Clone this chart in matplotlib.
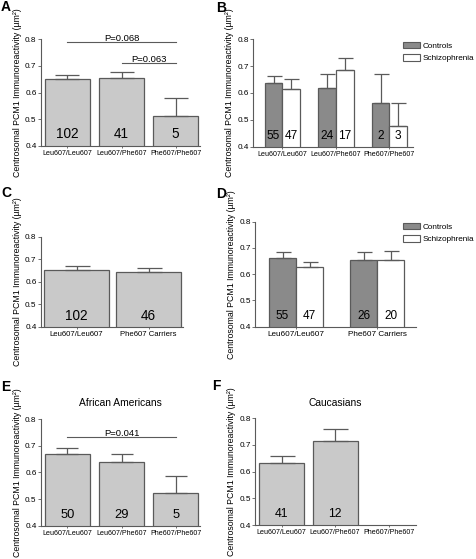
import numpy as np
import matplotlib
matplotlib.use('Agg')
import matplotlib.pyplot as plt
from matplotlib.patches import Patch

plt.rcParams['font.family'] = ['Liberation Sans', 'DejaVu Sans']

# ---------------------------------------------------------------- data
genotypes3 = ['Leu607/Leu607', 'Leu607/Phe607', 'Phe607/Phe607']
genotypes2 = ['Leu607/Leu607', 'Phe607 Carriers']
group_names = ['Controls', 'Schizophrenia']

a_mean = [0.651, 0.656, 0.511]
a_sem = [0.017, 0.023, 0.068]
a_n = [102, 41, 5]
a_pvals = ['P=0.068', 'P=0.063']

b_ctrl_mean = [0.637, 0.617, 0.562]
b_ctrl_sem = [0.027, 0.055, 0.108]
b_ctrl_n = [55, 24, 2]
b_scz_mean = [0.615, 0.685, 0.477]
b_scz_sem = [0.037, 0.045, 0.086]
b_scz_n = [47, 17, 3]

c_mean = [0.652, 0.641]
c_sem = [0.016, 0.021]
c_n = [102, 46]

d_ctrl_mean = [0.662, 0.653]
d_ctrl_sem = [0.022, 0.033]
d_ctrl_n = [55, 26]
d_scz_mean = [0.627, 0.653]
d_scz_sem = [0.021, 0.034]
d_scz_n = [47, 20]

e_mean = [0.670, 0.638, 0.521]
e_sem = [0.020, 0.030, 0.067]
e_n = [50, 29, 5]
e_pvals = ['P=0.041']

f_mean = [0.632, 0.714]      # no Phe607/Phe607 subjects
f_sem = [0.025, 0.047]
f_n = [41, 12]

YLAB = u'Centrosomal PCM1 Immunoreactivity (\u00b5m\u00b2)'
GREY = '#c9c9c9'
CTRL = '#8a8a8a'
EDGE = '#5a5a5a'

W, H = 477, 559
fig = plt.figure(figsize=(W / 100.0, H / 100.0), dpi=100)


def add_axes_px(x0, x1, ytop, ybot):
    return fig.add_axes([x0 / W, 1 - ybot / H, (x1 - x0) / W, (ybot - ytop) / H])


def style_axes(ax, labels, xlim, tick_fs):
    ax.set_ylim(0.4, 0.8)
    ax.set_yticks([0.4, 0.5, 0.6, 0.7, 0.8])
    ax.set_yticklabels(['0.4', '0.5', '0.6', '0.7', '0.8'])
    ax.set_xlim(*xlim)
    ax.set_xticks(range(len(labels)))
    ax.set_xticklabels(labels, fontsize=tick_fs)
    for s in ['top', 'right']:
        ax.spines[s].set_visible(False)
    for s in ['left', 'bottom']:
        ax.spines[s].set_color(EDGE)
        ax.spines[s].set_linewidth(0.8)
    ax.tick_params(axis='y', labelsize=5.9, length=2, width=0.6, color=EDGE, pad=1)
    ax.tick_params(axis='x', length=1.5, width=0.6, color=EDGE, pad=1.5)
    ax.set_ylabel(YLAB, fontsize=6.3, labelpad=2.5)


def single_bars(ax, mean, sem, n, width, capsize, num_fs):
    x = np.arange(len(mean))
    ax.bar(x, mean, width, bottom=0, color=GREY, edgecolor=EDGE, linewidth=0.9, zorder=2)
    ax.errorbar(x, mean, yerr=[np.zeros(len(sem)), sem], fmt='none', ecolor=EDGE,
                elinewidth=0.9, capsize=capsize, capthick=0.9, zorder=3)
    for xi, ni in zip(x, n):
        ax.text(xi, 0.43, str(ni), ha='center', va='baseline', fontsize=num_fs, zorder=4)


def grouped_bars(ax, m1, s1, n1, m2, s2, n2, width, capsize, num_fs):
    x = np.arange(len(m1))
    for off, m, s, n, fc in [(-width / 2, m1, s1, n1, CTRL), (width / 2, m2, s2, n2, 'white')]:
        ax.bar(x + off, m, width, color=fc, edgecolor=EDGE, linewidth=0.9, zorder=2)
        ax.errorbar(x + off, m, yerr=[np.zeros(len(s)), s], fmt='none', ecolor=EDGE,
                    elinewidth=0.9, capsize=capsize, capthick=0.9, zorder=3)
        for xi, ni in zip(x + off, n):
            ax.text(xi, 0.43, str(ni), ha='center', va='baseline', fontsize=num_fs, zorder=4)


def pline(ax, x0, x1, y, label):
    ax.plot([x0, x1], [y, y], color=EDGE, lw=0.8, clip_on=False)
    ax.text((x0 + x1) / 2.0, y - 0.004, label, ha='center', va='bottom', fontsize=6.8)


def legend_px(x, y):
    handles = [Patch(facecolor=CTRL, edgecolor=EDGE, linewidth=0.8, label=group_names[0]),
               Patch(facecolor='white', edgecolor=EDGE, linewidth=0.8, label=group_names[1])]
    fig.legend(handles=handles, loc='upper left', bbox_to_anchor=(x / W, 1 - y / H),
               frameon=False, fontsize=5.9, handlelength=2.1, handleheight=0.8,
               handletextpad=0.3, labelspacing=0.55, borderpad=0, borderaxespad=0)


# ---------------------------------------------------------------- A
axA = add_axes_px(40.7, 200, 39.3, 146)
single_bars(axA, a_mean, a_sem, a_n, 0.83, 8.5, 9.8)
style_axes(axA, genotypes3, (-0.495, 2.45), 5.1)
pline(axA, 0, 2, 0.789, a_pvals[0])
pline(axA, 1, 2, 0.710, a_pvals[1])

# ---------------------------------------------------------------- B
axB = add_axes_px(253, 413, 39.3, 146.7)
grouped_bars(axB, b_ctrl_mean, b_ctrl_sem, b_ctrl_n, b_scz_mean, b_scz_sem, b_scz_n,
             0.33, 5.4, 8.6)
style_axes(axB, genotypes3, (-0.55, 2.44), 5.1)
legend_px(403, 42)

# ---------------------------------------------------------------- C
axC = add_axes_px(40.7, 183, 236.7, 326.7)
single_bars(axC, c_mean, c_sem, c_n, 0.9, 9, 9.8)
style_axes(axC, genotypes2, (-0.5, 1.48), 5.6)

# ---------------------------------------------------------------- D
axD = add_axes_px(255, 416, 221.7, 326.7)
grouped_bars(axD, d_ctrl_mean, d_ctrl_sem, d_ctrl_n, d_scz_mean, d_scz_sem, d_scz_n,
             0.333, 5.4, 8.5)
style_axes(axD, genotypes2, (-0.506, 1.48), 5.9)
legend_px(403, 223)

# ---------------------------------------------------------------- E
axE = add_axes_px(40.7, 200, 419, 525.7)
single_bars(axE, e_mean, e_sem, e_n, 0.84, 8, 9.3)
style_axes(axE, genotypes3, (-0.495, 2.45), 5.1)
pline(axE, 0, 2, 0.734, e_pvals[0])
axE.set_title('African Americans', fontsize=7.4, pad=9)

# ---------------------------------------------------------------- F
axF = add_axes_px(255, 416, 418.3, 525)
single_bars(axF, f_mean, f_sem, f_n, 0.84, 9, 8.8)
style_axes(axF, genotypes3, (-0.495, 2.51), 5.1)
axF.set_title('Caucasians', fontsize=7.4, pad=9)

# ---------------------------------------------------------------- panel letters
for letter, (x, y) in zip('ABCDEF', [(1, 0), (216, 1), (1, 186), (216, 187), (1, 380), (212, 379)]):
    fig.text(x / W, 1 - y / H, letter, fontsize=10, fontweight='bold', ha='left', va='top')

fig.savefig('out.png', dpi=100)
